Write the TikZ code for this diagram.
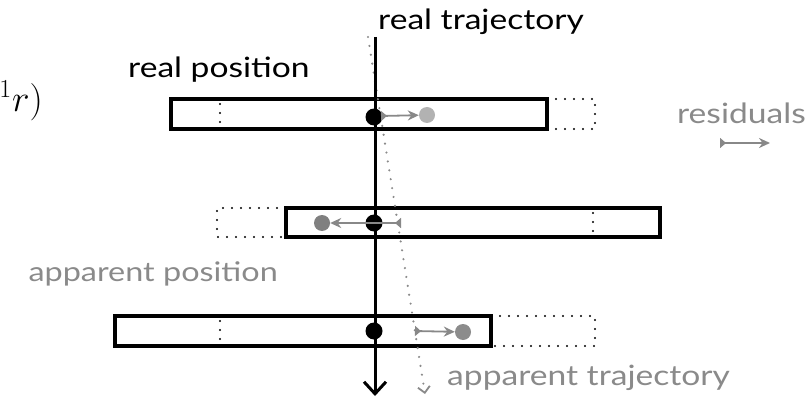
\documentclass[tikz,border=0pt]{standalone}
\usepackage{fontspec}
\setmainfont{Lato}[FakeStretch=1.2]
\usetikzlibrary{arrows.meta}
\definecolor{txtgray}{HTML}{8A8A8A}
\definecolor{resgray}{HTML}{888888}
\begin{document}
\begin{tikzpicture}[x=1pt,y=-1pt,
  bar/.style={line width=3.4pt},
  ext/.style={line width=2.2pt,line cap=round,dash pattern=on 0pt off 9pt},
  realdot/.style={circle,fill=black,inner sep=0pt,minimum size=17pt},
  appdot/.style={circle,inner sep=0pt,minimum size=16pt},
  resid/.style={resgray,line width=1.8pt,{Triangle[reversed,length=6pt,width=10pt]}-{Stealth[length=11pt,width=10pt]}},
  lbl/.style={inner sep=0pt,font=\fontsize{28}{32}\selectfont},
  glbl/.style={lbl,text=txtgray}]
\useasboundingbox (0,0) rectangle (810,398);

% partial formula at the left edge
\node[anchor=east,inner sep=0pt,font=\fontsize{24}{28}\selectfont] (formula) at (43,101) {\scalebox{1.5}{${}^{1}r)$}};

% bars
\draw[bar] (171,99) rectangle (547,129);
\draw[ext] (547,99) -- (595,99) -- (595,129) -- (547,129);
\draw[ext] (220,104) -- (220,128);

\draw[bar] (286,208) rectangle (660,237);
\draw[ext] (286,208) -- (217,208) -- (217,237) -- (286,237);
\draw[ext] (593,213) -- (593,237);

\draw[bar] (115,316) rectangle (491,346);
\draw[ext] (491,316) -- (595,316) -- (595,346) -- (491,346);
\draw[ext] (220,321) -- (220,345);

% trajectories
\coordinate (rtop) at (375,37);
\coordinate (rbot) at (375,396);
\coordinate (atop) at (368,37);
\coordinate (abot) at (425,394);
\draw[txtgray,line width=2.4pt,line cap=round,dash pattern=on 0pt off 9pt,-{Straight Barb[length=6pt,width=12pt,line width=1.8pt]}] (atop) -- (abot);
\draw[line width=3pt,-{Straight Barb[length=12pt,width=22pt,line width=3pt]}] (rtop) -- (rbot);

% real positions
\node[realdot] (r1) at (374,117) {};
\node[realdot] (r2) at (374,223) {};
\node[realdot] (r3) at (374,331) {};

% apparent positions
\node[appdot,fill=black!30] (a1) at (427,115) {};
\node[appdot,fill=black!50] (a2) at (322,223) {};
\node[appdot,fill=black!45] (a3) at (463,332) {};

% residual tails on apparent trajectory
\coordinate (t1) at (381,116);
\coordinate (t2) at (401,223);
\coordinate (t3) at (415,331);
\draw[resid] (t1) -- (a1);
\draw[resid] (t2) -- (a2);
\draw[resid] (t3) -- (a3);

% labels
\node[lbl,anchor=base west] (lrt) at (378,30) {real trajectory};
\node[lbl,anchor=base west] (lrp) at (128,78) {real position};
\node[glbl,anchor=base east] (lres) at (806,124) {residuals};
\coordinate (lg1) at (720,143);
\coordinate (lg2) at (770,143);
\draw[resid] (lg1) -- (lg2);
\node[glbl,anchor=base east,font=\fontsize{27}{31}\selectfont] (lap) at (278,281) {apparent position};
\node[glbl,anchor=base west] (lat) at (447,385) {apparent trajectory};
\end{tikzpicture}
\end{document}
